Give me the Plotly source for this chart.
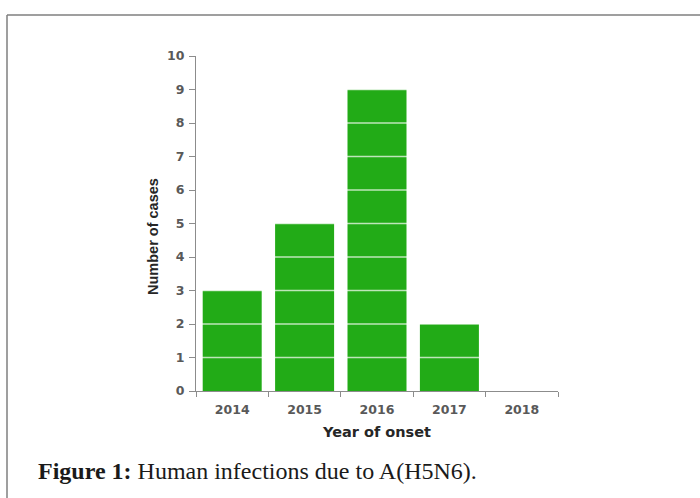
import plotly.graph_objects as go

years = ["2014", "2015", "2016", "2017", "2018"]
cases = [3, 5, 9, 2, 0]
y_ticks = [0, 1, 2, 3, 4, 5, 6, 7, 8, 9, 10]

W, H = 700, 498
L, R, T, B = 196, 142, 56, 107
pw, ph = W - L - R, H - T - B


def px_x(px):
    return (px - L) / pw


def px_y(py):
    return 1 - (py - T) / ph


fig = go.Figure(go.Bar(x=years, y=cases, marker=dict(color="#22AB17", line=dict(width=0)),
                       hoverinfo="x+y"))

shapes = []
for v in y_ticks[1:-1]:
    shapes.append(dict(type="line", xref="paper", yref="y", x0=0, x1=1, y0=v, y1=v,
                       line=dict(color="rgba(255,255,255,0.7)", width=1.5), layer="above"))
# figure frame (top and left edges)
shapes.append(dict(type="line", xref="paper", yref="paper", x0=px_x(7), x1=px_x(W + 5),
                   y0=px_y(15), y1=px_y(15), line=dict(color="#7F7F7F", width=1.5)))
shapes.append(dict(type="line", xref="paper", yref="paper", x0=px_x(7), x1=px_x(7),
                   y0=px_y(15), y1=px_y(H + 5), line=dict(color="#7F7F7F", width=1.5)))

tick_font = dict(family="DejaVu Sans", size=12.5, color="#595959", weight="bold")

fig.update_layout(
    width=W, height=H,
    margin=dict(l=L, r=R, t=T, b=B),
    paper_bgcolor="white", plot_bgcolor="white",
    bargap=0.185,
    showlegend=False,
    shapes=shapes,
    xaxis=dict(
        type="category", showgrid=False, zeroline=False,
        showline=True, linecolor="#8C8C8C", linewidth=1.2,
        ticks="outside", tickson="boundaries", ticklen=5, tickcolor="#8C8C8C", tickwidth=1.2,
        tickfont=tick_font, ticklabelstandoff=7,
        title=dict(text="Year of onset",
                   font=dict(family="DejaVu Sans", size=14.5, color="#262626", weight="bold"),
                   standoff=10),
    ),
    yaxis=dict(
        range=[0, 10], tickvals=y_ticks, showgrid=False, zeroline=False,
        showline=True, linecolor="#8C8C8C", linewidth=1.2,
        ticks="outside", ticklen=6, tickcolor="#8C8C8C", tickwidth=1.2,
        tickfont=tick_font, ticklabelstandoff=2,
    ),
    annotations=[
        dict(text="<b>Number of cases</b>", textangle=-90,
             xref="paper", yref="paper", x=px_x(153), y=px_y(237),
             xanchor="center", yanchor="middle", showarrow=False,
             font=dict(family="Liberation Sans", size=14.5, color="#262626")),
        dict(text="<b>Figure 1:</b> Human infections due to A(H5N6).",
             xref="paper", yref="paper", x=px_x(36), y=px_y(471),
             xanchor="left", yanchor="middle", showarrow=False,
             font=dict(family="Liberation Serif", size=24, color="#1a1a1a")),
    ],
)

fig.write_html("out.html", config={"displayModeBar": False},
               post_script="document.body.style.margin='0';document.body.style.overflow='hidden';")
